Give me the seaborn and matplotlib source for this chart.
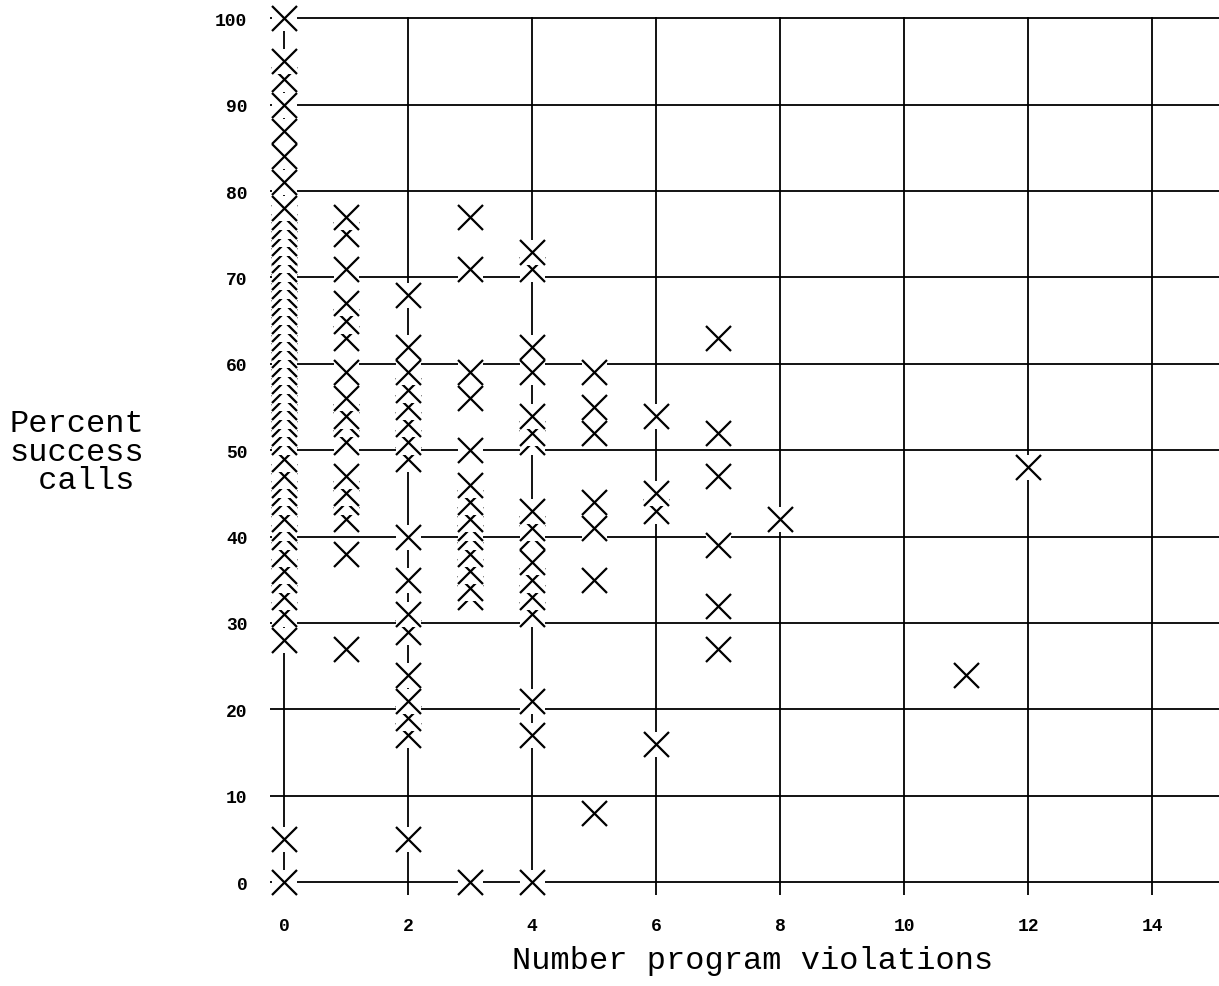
import matplotlib
matplotlib.use("Agg")
import pandas as pd
import matplotlib.pyplot as plt
import seaborn as sns

# Percent success calls for each number of program violations
pct_v0 = [0, 5, 28, 31, 33, 35, 36, 38, 40, 41, 42, 44, 45, 46, 47, 49, 51, 52,
          53, 54, 55, 56, 57, 58, 59, 60, 61, 62, 63, 64, 65, 66, 67, 68, 69, 70,
          71, 72, 73, 74, 75, 76, 77, 78, 81, 84, 87, 90, 93, 95, 100]
pct_v1 = [27, 38, 42, 44, 45, 47, 51, 53, 54, 56, 59, 63, 65, 67, 71, 75, 77]
pct_v2 = [5, 17, 19, 21, 24, 29, 31, 35, 40, 49, 51, 53, 55, 57, 59, 62, 68]
pct_v3 = [0, 33, 34, 36, 38, 40, 41, 42, 44, 46, 50, 56, 59, 71, 77]
pct_v4 = [0, 17, 21, 31, 33, 35, 37, 40, 41, 43, 51, 52, 54, 59, 62, 71, 73]
pct_v5 = [8, 35, 41, 44, 52, 55, 59]
pct_v6 = [16, 43, 45, 54]
pct_v7 = [27, 32, 39, 47, 52, 63]
pct_v8 = [42]
pct_v11 = [24]
pct_v12 = [48]

by_violations = {0: pct_v0, 1: pct_v1, 2: pct_v2, 3: pct_v3, 4: pct_v4,
                 5: pct_v5, 6: pct_v6, 7: pct_v7, 8: pct_v8, 11: pct_v11,
                 12: pct_v12}

x_ticks = [0, 2, 4, 6, 8, 10, 12, 14]
y_ticks = [0, 10, 20, 30, 40, 50, 60, 70, 80, 90, 100]

rows = [(v, p) for v, vals in by_violations.items() for p in vals]
df = pd.DataFrame(rows, columns=["violations", "percent"])
# lower points first, so each new marker blanks out the top of the one below
df = df.sort_values(["percent", "violations"]).reset_index(drop=True)

sns.set_style("white")
plt.rcParams["font.family"] = ["Liberation Mono", "DejaVu Sans"]
plt.rcParams["text.color"] = "black"

W, H = 1219, 987
fig = plt.figure(figsize=(W / 100, H / 100), dpi=100)
ax = fig.add_axes([270.4 / W, 91 / H, 948.6 / W, 878 / H])

ms = 18  # marker size in points
for i, row in df.iterrows():
    pt = df.iloc[[i]]
    sns.scatterplot(data=pt, x="violations", y="percent", marker="s", s=ms ** 2,
                    color="white", linewidth=0, zorder=3 + 2 * i, clip_on=False,
                    legend=False, ax=ax)
    sns.scatterplot(data=pt, x="violations", y="percent", marker="x", s=ms ** 2,
                    color="black", linewidth=1.6, zorder=4 + 2 * i, clip_on=False,
                    legend=False, ax=ax)

ax.set_xlim(-0.22, 15.08)
ax.set_ylim(-1.5, 100.15)
ax.set_xticks(x_ticks)
ax.set_yticks(y_ticks)
ax.set_xticklabels([str(t) for t in x_ticks], fontsize=13, fontweight="bold")
ax.set_yticklabels([str(t) for t in y_ticks], fontsize=13, fontweight="bold")
ax.tick_params(axis="both", length=0, colors="black")
ax.tick_params(axis="y", pad=16.5)
ax.tick_params(axis="x", pad=15.5)

ax.set_axisbelow(True)
ax.grid(True, color="black", linewidth=1.3)
for s in ax.spines.values():
    s.set_visible(False)

ax.set_xlabel("Number program violations", fontsize=23, color="black")
ax.xaxis.set_label_coords(0.508, -0.057)
ax.set_ylabel("Percent\nsuccess\n calls", fontsize=23, rotation=0, color="black",
              ha="center", va="center", multialignment="center", linespacing=0.95)
ax.yaxis.set_label_coords(-0.204, 0.505)

fig.savefig("out.png", dpi=100, facecolor="white")
